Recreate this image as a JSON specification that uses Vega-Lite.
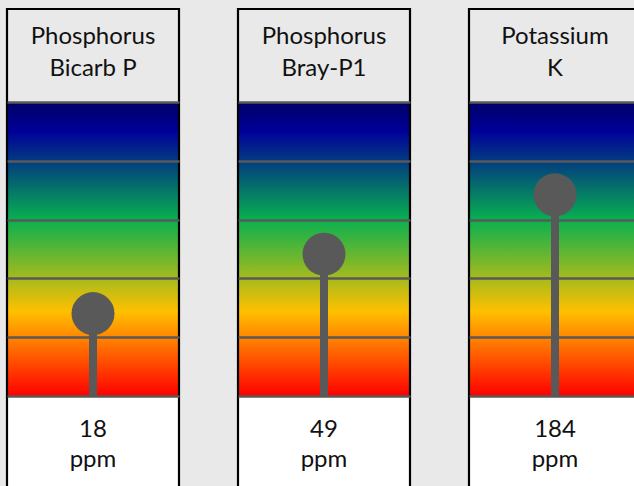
{
  "$schema": "https://vega.github.io/schema/vega-lite/v6.json",
  "background": "#e9e9e9",
  "padding": {"left": 5, "top": 7, "right": 0, "bottom": 0},
  "config": {"view": {"stroke": null}},
  "data": {
    "values": [
      {"panel": 1, "title": ["Phosphorus", "Bicarb P"], "value": 18, "unit": "ppm", "level": 1.40},
      {"panel": 2, "title": ["Phosphorus", "Bray-P1"], "value": 49, "unit": "ppm", "level": 2.41},
      {"panel": 3, "title": ["Potassium", "K"], "value": 184, "unit": "ppm", "level": 3.42}
    ]
  },
  "facet": {"column": {"field": "panel", "type": "ordinal", "header": {"labels": false, "title": null}}},
  "spacing": 55,
  "spec": {
    "width": 172,
    "height": 481,
    "layer": [
      {
        "mark": {"type": "rect", "fill": "#ffffff"},
        "encoding": {
          "x": {"datum": 0, "type": "quantitative", "scale": {"domain": [0, 1], "nice": false, "zero": false}, "axis": null},
          "x2": {"datum": 1},
          "y": {"datum": -1.6, "type": "quantitative", "scale": {"domain": [-1.6, 6.58], "nice": false, "zero": false},
            "axis": {"values": [0, 1, 2, 3, 4, 5], "grid": true, "gridColor": "#595959", "gridWidth": 2.5, "gridOpacity": 1, "labels": false, "ticks": false, "domain": false, "title": null, "zindex": 1}},
          "y2": {"datum": 0}
        }
      },
      {
        "mark": {"type": "rect", "fill": {"gradient": "linear", "x1": 0, "y1": 1, "x2": 0, "y2": 0,
          "stops": [
            {"offset": 0, "color": "#ff0000"},
            {"offset": 0.287, "color": "#ffc000"},
            {"offset": 0.6, "color": "#08b050"},
            {"offset": 0.9, "color": "#000099"},
            {"offset": 1, "color": "#000066"}
          ]}},
        "encoding": {
          "x": {"datum": 0, "type": "quantitative"},
          "x2": {"datum": 1},
          "y": {"datum": 0, "type": "quantitative"},
          "y2": {"datum": 5}
        }
      },
      {
        "mark": {"type": "rule", "color": "#595959", "strokeWidth": 8},
        "encoding": {
          "x": {"datum": 0.5, "type": "quantitative"},
          "y": {"field": "level", "type": "quantitative"},
          "y2": {"datum": 0}
        }
      },
      {
        "mark": {"type": "circle", "size": 1849, "color": "#595959", "opacity": 1},
        "encoding": {
          "x": {"datum": 0.5, "type": "quantitative"},
          "y": {"field": "level", "type": "quantitative"}
        }
      },
      {
        "mark": {"type": "text", "font": "Lato", "fontSize": 24, "lineHeight": 32, "baseline": "alphabetic", "align": "center", "color": "#111111"},
        "encoding": {
          "x": {"datum": 0.5, "type": "quantitative"},
          "y": {"datum": 5.986, "type": "quantitative"},
          "text": {"field": "title"}
        }
      },
      {
        "mark": {"type": "text", "font": "Lato", "fontSize": 24, "baseline": "alphabetic", "align": "center", "color": "#111111"},
        "encoding": {
          "x": {"datum": 0.5, "type": "quantitative"},
          "y": {"datum": -0.697, "type": "quantitative"},
          "text": {"field": "value"}
        }
      },
      {
        "mark": {"type": "text", "font": "Lato", "fontSize": 24, "baseline": "alphabetic", "align": "center", "color": "#111111"},
        "encoding": {
          "x": {"datum": 0.5, "type": "quantitative"},
          "y": {"datum": -1.207, "type": "quantitative"},
          "text": {"field": "unit"}
        }
      },
      {
        "mark": {"type": "rect", "fill": "transparent", "stroke": "#000000", "strokeWidth": 2.2},
        "encoding": {
          "x": {"datum": 0, "type": "quantitative"},
          "x2": {"datum": 1},
          "y": {"datum": -1.6, "type": "quantitative"},
          "y2": {"datum": 6.58}
        }
      }
    ]
  }
}
